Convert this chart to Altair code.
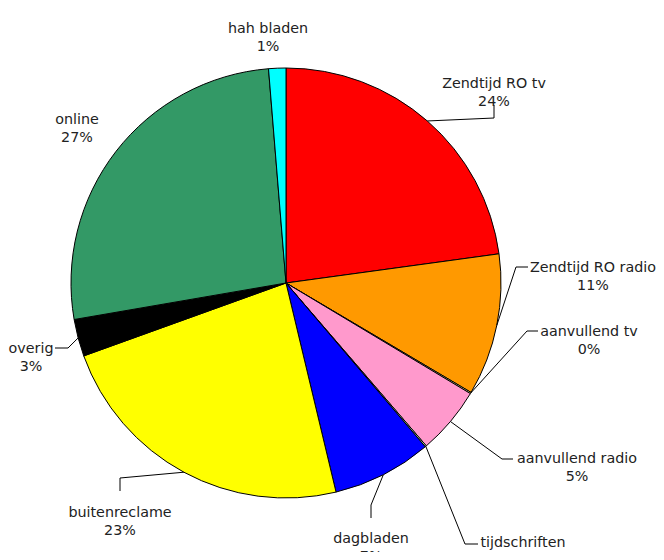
import math
import altair as alt
import pandas as pd

# ---- data ----
categories = ["Zendtijd RO tv", "Zendtijd RO radio", "aanvullend tv", "aanvullend radio",
              "tijdschriften", "dagbladen", "buitenreclame", "overig", "online", "hah bladen"]
values = [22.9, 10.7, 0.1, 5.1, 0.1, 7.5, 23.3, 2.8, 26.5, 1.3]
pct_labels = ["24%", "11%", "0%", "5%", "0%", "7%", "23%", "3%", "27%", "1%"]
colors = ["#FF0000", "#FF9900", "#FFFF99", "#FF99CC", "#CCFFCC", "#0000FF",
          "#FFFF00", "#000000", "#339966", "#00FFFF"]

# ---- layout (page pixel coordinates, converted to view below) ----
MARGIN = 8
CX, CY, R = 286 - MARGIN, 283 - MARGIN, 215
label_pos = [(494, 84), (593, 268), (589, 332), (577, 459), (523, 543),
             (371, 539), (120, 513), (31, 349), (77, 120), (268, 29)]
# leader line elbow / end points (None = no leader line)
leader_pts = [[(494, 118), (494, 105)], [(516, 267), (528, 267)], [(527, 331), (538, 331)],
              [(502, 459), (513, 459)], [(465, 544), (478, 544)], [(371, 505), (371, 518)],
              [(120, 478), (120, 491)], [(68, 348), (55, 348)], None, None]

total = sum(values)
df = pd.DataFrame({"idx": range(len(categories)), "category": categories, "value": values})

# labels
lab = pd.DataFrame({
    "category": categories,
    "text": [f"{c}\n{p}" for c, p in zip(categories, pct_labels)],
    "x": [p[0] - MARGIN for p in label_pos],
    "y": [p[1] - MARGIN for p in label_pos],
})

# leader lines: start at the arc edge at each slice's mid angle
rows = []
cum = 0.0
for i, v in enumerate(values):
    mid = (cum + v / 2) / total * 2 * math.pi
    cum += v
    if leader_pts[i] is None:
        continue
    ax = CX + R * math.sin(mid)
    ay = CY - R * math.cos(mid)
    pts = [(ax, ay)] + [(px - MARGIN, py - MARGIN) for px, py in leader_pts[i]]
    for k, (px, py) in enumerate(pts):
        rows.append({"category": categories[i], "k": k, "x": px, "y": py})
lines = pd.DataFrame(rows)

pie = alt.Chart(df).mark_arc(outerRadius=R, stroke="black", strokeWidth=1).encode(
    theta=alt.Theta("value:Q", stack=True),
    color=alt.Color("category:N", scale=alt.Scale(domain=categories, range=colors), legend=None),
    order=alt.Order("idx:Q"),
    x=alt.value(CX),
    y=alt.value(CY),
)

leaders = alt.Chart(lines).mark_line(color="black", strokeWidth=1).encode(
    x=alt.X("x:Q", scale=None, axis=None),
    y=alt.Y("y:Q", scale=None, axis=None),
    detail="category:N",
    order="k:Q",
)

texts = alt.Chart(lab).mark_text(
    lineBreak="\n", font="DejaVu Sans", fontSize=14.3, lineHeight=18,
    align="center", baseline="middle", color="#222222",
).encode(
    x=alt.X("x:Q", scale=None, axis=None),
    y=alt.Y("y:Q", scale=None, axis=None),
    text="text:N",
)

chart = alt.layer(pie, leaders, texts).properties(
    width=648, height=544, autosize="none", padding=0
).configure_view(stroke=None)

chart.save("out.html", embed_options={"renderer": "svg", "actions": False})
